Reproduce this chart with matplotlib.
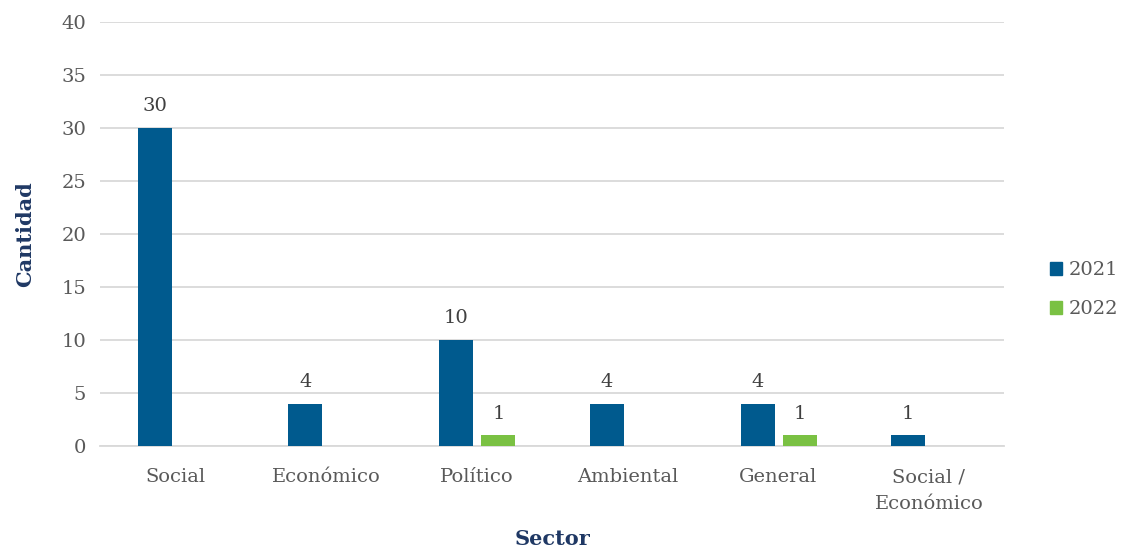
import matplotlib.pyplot as plt
import numpy as np
from matplotlib.patches import Patch

sectores = ["Social", "Económico", "Político", "Ambiental", "General", "Social /\nEconómico"]
v2021 = [30, 4, 10, 4, 4, 1]
v2022 = [0, 0, 1, 0, 1, 0]

azul = "#005A8E"
verde = "#7AC143"
gris = "#595959"
titulo = "#1F3864"

plt.rcParams['font.family'] = ['DejaVu Serif']

fig = plt.figure(figsize=(11.22, 5.52), dpi=100)
ax = fig.add_axes([0.0891, 0.192, 0.806, 0.768])

x = np.arange(len(sectores))
w = 0.226
b1 = ax.bar(x - 0.137, v2021, w, color=azul, label="2021", zorder=3)
b2 = ax.bar(x + 0.143, v2022, w, color=verde, label="2022", zorder=3)

for rect, v in zip(b1, v2021):
    if v > 0:
        ax.text(rect.get_x() + rect.get_width() / 2, v + 1.2, str(v),
                ha='center', va='bottom', fontsize=14, color="#404040")
for rect, v in zip(b2, v2022):
    if v > 0:
        ax.text(rect.get_x() + rect.get_width() / 2, v + 1.2, str(v),
                ha='center', va='bottom', fontsize=14, color="#404040")

ax.set_xlim(-0.5, len(sectores) - 0.5)
ax.set_ylim(0, 40)
ax.set_yticks(range(0, 41, 5))
ax.set_xticks(x)
ax.set_xticklabels(sectores, linespacing=1.6)
ax.grid(axis='y', color='#D9D9D9', linewidth=1.3, zorder=0)
ax.tick_params(length=0, labelsize=14, labelcolor=gris, pad=10)
ax.tick_params(axis='x', pad=16)
for s in ['top', 'right', 'left']:
    ax.spines[s].set_visible(False)
ax.spines['bottom'].set_color('#D9D9D9')
ax.spines['bottom'].set_linewidth(1.3)

ax.set_xlabel("Sector", fontsize=15, fontweight='bold', color=titulo, labelpad=12)
ax.set_ylabel("Cantidad", fontsize=15, fontweight='bold', color=titulo, labelpad=19)

handles = [Patch(color=azul, label="2021"), Patch(color=verde, label="2022")]
leg = fig.legend(handles=handles, loc='center left', bbox_to_anchor=(0.92, 0.475),
                 frameon=False, fontsize=14, handlelength=0.65, handleheight=0.65,
                 handletextpad=0.3, labelspacing=1.1)
for t in leg.get_texts():
    t.set_color(gris)

fig.savefig("out.png", dpi=100)
